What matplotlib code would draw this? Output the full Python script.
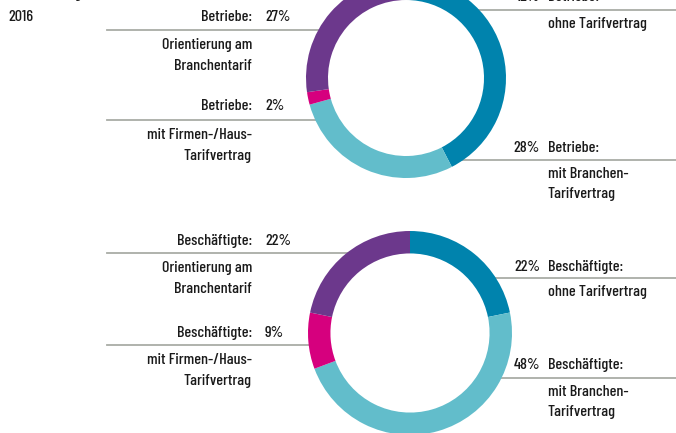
import matplotlib
matplotlib.use("Agg")
import matplotlib.pyplot as plt
import numpy as np

plt.rcParams['font.family'] = ['Barlow Condensed', 'DejaVu Sans']
plt.rcParams['font.weight'] = 'medium'

W, H = 676, 433

# data
categories = ["ohne Tarifvertrag", "mit Branchen-\nTarifvertrag",
              "mit Firmen-/Haus-\nTarifvertrag", "Orientierung am\nBranchentarif"]
betriebe = [42, 28, 2, 27]
beschaeftigte = [22, 48, 9, 22]
colors = ["#0083ad", "#62bdcb", "#d6007e", "#6c388c"]
line_col = "#a9aca6"
txt_col = "#1a1a1a"
fs = 11.6

fig = plt.figure(figsize=(W / 100, H / 100), dpi=100)
ax = fig.add_axes([0, 0, 1, 1])

def Y(py):
    return H - py

def label(x, py, s, ha, **kw):
    ax.text(x, Y(py), s, ha=ha, va="center", fontsize=fs, color=txt_col, **kw)

def donut(values, cx, cy, r, group, lab):
    ax.pie(values, colors=colors, center=(cx, Y(cy)), radius=r,
           startangle=90, counterclock=False, frame=True,
           wedgeprops=dict(width=r * 0.22, linewidth=0))
    # label layout: (slice index, side, header y, line y)
    for i, side, hy, ly in lab:
        pct = "%d%%" % values[i]
        dy = abs(ly - cy)
        edge = np.sqrt(max(r ** 2 - dy ** 2, 0))
        sub = categories[i].split("\n")
        if side == "L":
            ax.plot([107, cx - edge + 4], [Y(ly), Y(ly)], color=line_col, lw=1.3, zorder=0)
            label(252, hy, group + ":", "right")
            label(265, hy, pct, "left")
            for k, s in enumerate(sub):
                label(252, ly + 15 + 21 * k, s, "right")
        else:
            ax.plot([cx + edge - 4, W], [Y(ly), Y(ly)], color=line_col, lw=1.3, zorder=0)
            label(540, hy, pct, "right")
            label(548, hy, group + ":", "left")
            for k, s in enumerate(sub):
                label(548, ly + 14 + 20 * k, s, "left")

donut(betriebe, 406, 78, 100, "Betriebe",
      [(0, "R", -3, 10), (1, "R", 148, 160), (3, "L", 17, 30), (2, "L", 106, 120)])
donut(beschaeftigte, 410, 333, 102, "Beschäftigte",
      [(0, "R", 267, 278), (1, "R", 365, 378), (3, "L", 241, 253), (2, "L", 333, 345)])

label(8, -7, "Tarifbindung", "left", fontweight="bold")
label(8, 17, "2016", "left")

ax.set_xlim(0, W)
ax.set_ylim(0, H)
ax.set_aspect("auto")
ax.axis("off")

fig.savefig("out.png", dpi=100)
